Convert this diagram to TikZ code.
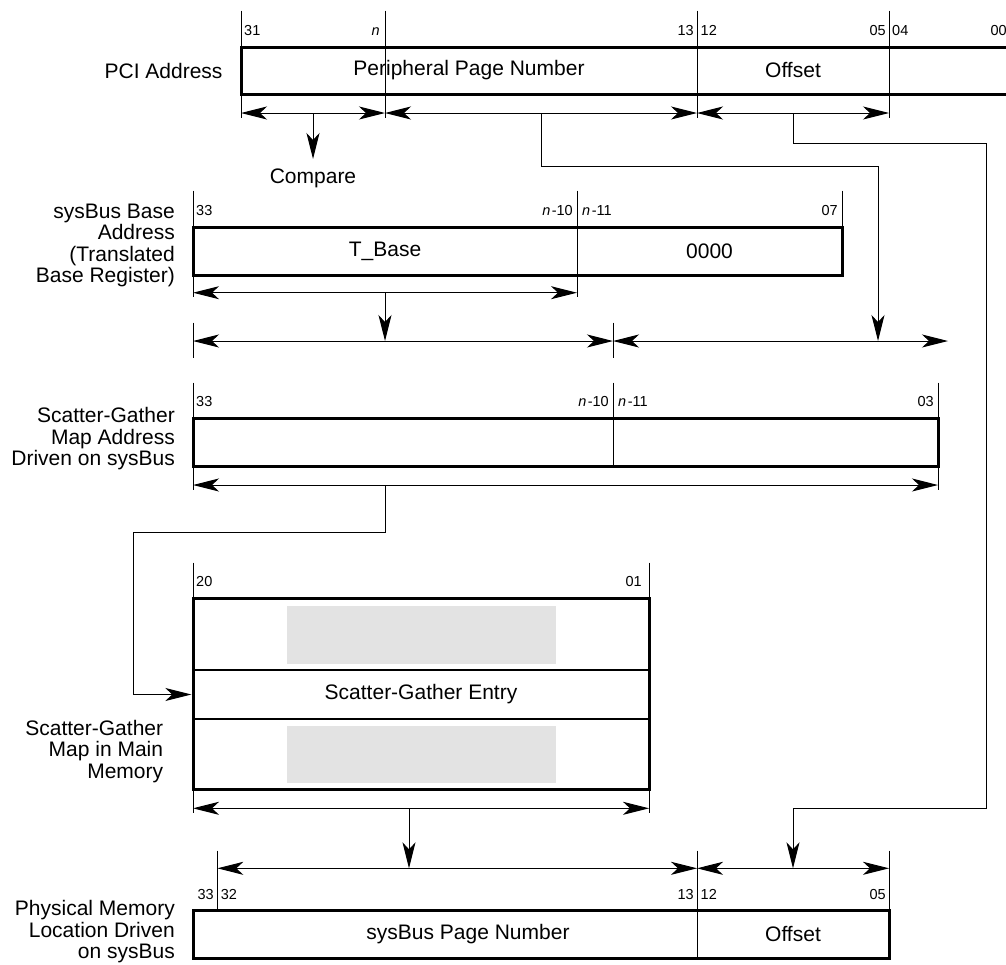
\documentclass[tikz,border=0pt]{standalone}
\usepackage{fontspec}
\setmainfont{Liberation Sans}
\usetikzlibrary{arrows.meta}
\definecolor{sgfill}{HTML}{E3E3E3}
\begin{document}
\begin{tikzpicture}[x=1pt,y=-1pt,
  >={Stealth[length=26pt,width=13pt,inset=7pt]},
  tick/.style={line width=1pt},
  frame/.style={line width=3pt},
  sep/.style={line width=2.2pt},
  dim/.style={line width=1pt,<->},
  arr/.style={line width=1pt,->},
  big/.style={font=\fontsize{21}{21.5}\selectfont, inner sep=0pt},
  lbl/.style={big, align=right, anchor=east},
  numw/.style={font=\fontsize{14.5}{14.5}\selectfont, inner sep=0pt, anchor=base west},
  nume/.style={font=\fontsize{14.5}{14.5}\selectfont, inner sep=0pt, anchor=base east},
]
\useasboundingbox (0,0) rectangle (1006,964);
\clip (0,0) rectangle (1006,964);

% ---------- Row 1: PCI Address ----------
\node[lbl] (lpci) at (222.7,70.5) {PCI Address};
\draw[frame] (241,47) rectangle (1020,94);
\node[big] (ppn) at (469,70.5) {Peripheral Page Number};
\node[big] (off1) at (793,70.5) {Offset};
\foreach \x in {241,385,697,889} \draw[tick] (\x,10.7) -- (\x,118);
\node[numw] (r1a) at (244,35) {31};
\node[nume] (r1b) at (380,35) {\textit{n}};
\node[nume] (r1c) at (694,35) {13};
\node[numw] (r1d) at (700.5,35) {12};
\node[nume] (r1e) at (886,35) {05};
\node[numw] (r1f) at (892,35) {04};
\node[nume] (r1g) at (1007,35) {00};
\coordinate (p31) at (241,113);
\coordinate (pn) at (385,113);
\coordinate (p13) at (697,113);
\coordinate (p05) at (889,113);
\draw[dim] (p31) -- (pn);
\draw[dim] (pn) -- (p13);
\draw[dim] (p13) -- (p05);
\coordinate (cmpsrc) at (313,113);
\coordinate (cmptip) at (313,159);
\draw[arr] (cmpsrc) -- (cmptip);
\node[big] (cmp) at (313,178) {Compare};

% ---------- Row 2: sysBus Base Address ----------
\node[lbl] (lbase) at (175,245.5) {sysBus Base\\Address\\(Translated\\Base Register)};
\draw[frame] (193,227) rectangle (842,275);
\node[big] (tbase) at (385,251) {T\_Base};
\node[big] (zeros) at (709.5,251) {0000};
\draw[tick] (193,190.7) -- (193,297);
\draw[tick] (577,190.7) -- (577,297);
\draw[tick] (842,190.7) -- (842,227);
\node[numw] (r2a) at (196,215) {33};
\node[nume] (r2b) at (573,215) {\textit{n}\kern1.5pt-10};
\node[numw] (r2c) at (582,215) {\textit{n}\kern1.5pt-11};
\node[nume] (r2d) at (838,215) {07};
\coordinate (q33) at (193,292.7);
\coordinate (qn) at (577,292.7);
\draw[dim] (q33) -- (qn);
\coordinate (qmid) at (385,292.7);
\coordinate (s1tip) at (385,341);
\draw[arr] (qmid) -- (s1tip);
% combined row
\draw[tick] (193,322.7) -- (193,358);
\draw[tick] (613,322.7) -- (613,358);
\coordinate (s33) at (193,341);
\coordinate (sn) at (613,341);
\coordinate (send) at (948,341);
\draw[dim] (s33) -- (sn);
\draw[dim] (sn) -- (send);
% page number route
\coordinate (ppnsrc) at (541,113);
\coordinate (ppnb1) at (541,166);
\coordinate (ppnb2) at (878,166);
\coordinate (ppntip) at (878,341);
\draw[arr] (ppnsrc) -- (ppnb1) -- (ppnb2) -- (ppntip);

% ---------- Row 3: Scatter-Gather Map Address ----------
\node[lbl] (lsgma) at (175,439) {Scatter-Gather\\Map Address\\Driven on sysBus};
\draw[frame] (193,418.3) rectangle (938,466.7);
\draw[tick] (613,382.7) -- (613,466.7);
\draw[tick] (193,382.7) -- (193,490);
\draw[tick] (938,382.7) -- (938,490);
\node[numw] (r3a) at (196,406.7) {33};
\node[nume] (r3b) at (609,406.7) {\textit{n}\kern1.5pt-10};
\node[numw] (r3c) at (618,406.7) {\textit{n}\kern1.5pt-11};
\node[nume] (r3d) at (934,406.7) {03};
\coordinate (t33) at (193,485);
\coordinate (t03) at (938,485);
\draw[dim] (t33) -- (t03);
\coordinate (tsrc) at (385,485);
\coordinate (tb1) at (385,532.7);
\coordinate (tb2) at (133,532.7);
\coordinate (tb3) at (133,694.5);

% ---------- Row 4: Scatter-Gather Map ----------
\node[lbl] (lsgm) at (163.3,751.5) {Scatter-Gather\\Map in Main\\Memory};
\fill[sgfill] (287,606) rectangle (556,664);
\fill[sgfill] (287,726) rectangle (556,783.3);
\node[big, minimum width=456pt, minimum height=49pt] (sge) at (421,694.5) {Scatter-Gather Entry};
\draw[sep] (193,670) -- (649,670);
\draw[sep] (193,719) -- (649,719);
\draw[frame] (193,598.3) rectangle (649,789.3);
\draw[tick] (193,562.7) -- (193,813);
\draw[tick] (649,562.7) -- (649,813);
\node[numw] (r4a) at (196,586.7) {20};
\node[nume] (r4b) at (642,586.7) {01};
\draw[arr] (tsrc) -- (tb1) -- (tb2) -- (tb3) -- ([xshift=-1.5pt]sge.west);
\coordinate (u20) at (193,808.3);
\coordinate (u01) at (649,808.3);
\draw[dim] (u20) -- (u01);
\coordinate (usrc) at (409,808.3);
\coordinate (utip) at (409,868.3);
\draw[arr] (usrc) -- (utip);

% ---------- Row 5: Physical Memory Location ----------
\node[lbl] (lphys) at (175,932) {Physical Memory\\Location Driven\\on sysBus};
\draw[frame] (193,910) rectangle (889,958.3);
\draw[tick] (697,850.7) -- (697,958.3);
\draw[tick] (217.3,850.7) -- (217.3,910);
\draw[tick] (889,850.7) -- (889,910);
\node[big] (spn) at (468,934) {sysBus Page Number};
\node[big] (off2) at (793,934) {Offset};
\node[nume] (r5a) at (214,899) {33};
\node[numw] (r5b) at (220.7,899) {32};
\node[nume] (r5c) at (694,899) {13};
\node[numw] (r5d) at (700.5,899) {12};
\node[nume] (r5e) at (886,899) {05};
\coordinate (v32) at (217.3,868.3);
\coordinate (v13) at (697,868.3);
\coordinate (v05) at (889,868.3);
\draw[dim] (v32) -- (v13);
\draw[dim] (v13) -- (v05);
% offset route
\coordinate (osrc) at (793,113);
\coordinate (ob1) at (793,143);
\coordinate (ob2) at (986,143);
\coordinate (ob3) at (986,808);
\coordinate (ob4) at (793,808);
\coordinate (otip) at (793,868.3);
\draw[arr] (osrc) -- (ob1) -- (ob2) -- (ob3) -- (ob4) -- (otip);
\end{tikzpicture}
\end{document}
